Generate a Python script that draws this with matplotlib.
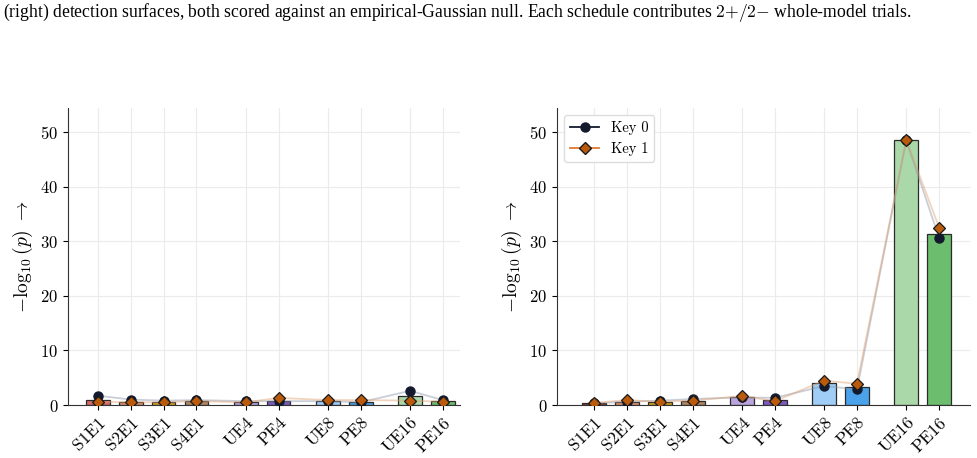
import matplotlib
matplotlib.use("Agg")
import numpy as np
import matplotlib.pyplot as plt
from matplotlib.lines import Line2D

plt.rcParams['font.family'] = 'cmr10'
plt.rcParams['mathtext.fontset'] = 'cm'
plt.rcParams['axes.formatter.use_mathtext'] = True

# schedules and their x positions (grouped with gaps)
labels = ['S1E1', 'S2E1', 'S3E1', 'S4E1', 'UE4', 'PE4', 'UE8', 'PE8', 'UE16', 'PE16']
xpos = [0, 1, 2, 3, 4.5, 5.5, 7, 8, 9.5, 10.5]

# left panel
left_key0 = [1.7, 1.0, 0.8, 0.9, 0.7, 0.7, 0.7, 0.5, 2.6, 0.9]
left_key1 = [0.6, 0.5, 0.5, 0.7, 0.5, 1.3, 0.9, 0.9, 0.8, 0.6]
left_bars = [1.0, 0.55, 0.5, 0.75, 0.6, 0.8, 0.7, 0.5, 1.6, 0.7]

# right panel
right_key0 = [0.3, 0.6, 0.8, 1.1, 1.4, 1.3, 3.5, 2.85, 48.5, 30.6]
right_key1 = [0.4, 0.9, 0.6, 0.8, 1.65, 0.7, 4.45, 3.9, 48.5, 32.5]
right_bars = [0.35, 0.6, 0.6, 0.8, 1.5, 1.0, 4.0, 3.35, 48.5, 31.4]

left_colors = ['#d46a6a', '#e0926e', '#d1a11c', '#b08660', '#b9a4dc',
               '#7e5bbf', '#9fcdf5', '#4aa3ea', '#aad8a8', '#6cbd6e']
right_colors = ['#8e3b32'] + left_colors[1:]

caption = ("(right) detection surfaces, both scored against an empirical-Gaussian null. "
           "Each schedule contributes $2{+}/2{-}$ whole-model trials.")

fig = plt.figure(figsize=(9.77, 4.58), dpi=100)
fig.text(0.003, 0.972, caption, family='Liberation Serif', fontsize=12.7,
         va='center', ha='left')

ax_l = fig.add_axes([68/977, 53/458, 392/977, 297/458])
ax_r = fig.add_axes([557/977, 53/458, 413/977, 297/458])

panels = [
    (ax_l, left_bars, left_key0, left_key1, left_colors, (-0.91, 11.02), False),
    (ax_r, right_bars, right_key0, right_key1, right_colors, (-1.13, 11.44), True),
]

for ax, bars, k0, k1, cols, xl, show_leg in panels:
    ax.bar(xpos, bars, width=0.72, color=cols, edgecolor='#2b2b2b',
           linewidth=0.9, zorder=2)
    ax.plot(xpos, k0, color='#8a94a8', alpha=0.45, lw=1.3, zorder=3)
    ax.plot(xpos, k1, color='#e0a070', alpha=0.45, lw=1.3, zorder=3)
    ax.plot(xpos, k0, ls='none', marker='o', ms=6.5, mfc='#141a2e',
            mec='#141a2e', zorder=4)
    ax.plot(xpos, k1, ls='none', marker='D', ms=6.5, mfc='#b95a0c',
            mec='#1a1a1a', mew=0.9, zorder=5)
    ax.set_xlim(*xl)
    ax.set_ylim(0, 54.4)
    ax.set_yticks([0, 10, 20, 30, 40, 50])
    ax.set_xticks(xpos)
    ax.set_xticklabels(labels, rotation=45, ha='right', rotation_mode='anchor',
                       fontsize=12.5)
    ax.tick_params(axis='y', labelsize=12)
    ax.set_ylabel(r'$-\log_{10}(p)\ \rightarrow$', fontsize=14)
    ax.grid(True, color='#ebebeb', lw=0.8, zorder=0)
    ax.set_axisbelow(True)
    for s in ['top', 'right']:
        ax.spines[s].set_visible(False)
    for s in ['left', 'bottom']:
        ax.spines[s].set_color('#333333')
    if show_leg:
        handles = [
            Line2D([], [], color='#141a2e', marker='o', ms=6.5, lw=1.3),
            Line2D([], [], color='#e07a30', marker='D', ms=6.5, mfc='#b95a0c',
                   mec='#1a1a1a', lw=1.3),
        ]
        ax.legend(handles, ['Key 0', 'Key 1'], loc='upper left', fontsize=10.5,
                  framealpha=1, edgecolor='#dddddd')

fig.savefig('out.png', dpi=100)
